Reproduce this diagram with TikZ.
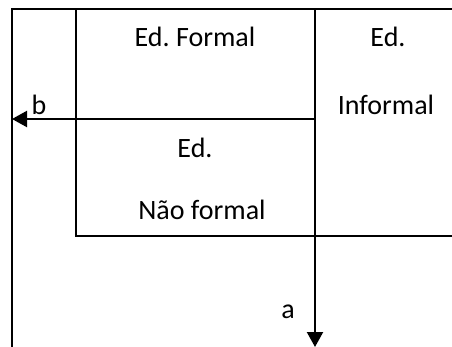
\documentclass[tikz,border=0pt]{standalone}
\usepackage{fontspec}
\setmainfont{Carlito}
\usepackage{tikz}
\usetikzlibrary{arrows.meta,positioning}
\frenchspacing

\begin{document}
\begin{tikzpicture}[x=1pt, y=-1pt,
  cell/.style={font=\fontsize{28}{34}\selectfont, inner sep=0pt, anchor=base},
  frame/.style={line width=2.2pt},
  flow/.style={line width=2.2pt, -{Triangle[length=15pt, width=16pt]}}
]
\useasboundingbox (0,0) rectangle (452,347);

% grid lines
\draw[frame] (452,9) -- (12,9) -- (12,347);
\draw[frame] (76,9) -- (76,236) -- (452,236);

\coordinate (atop) at (315,9);
\coordinate (aend) at (315,347);
\coordinate (bstart) at (315,119);
\coordinate (bend) at (12,119);

\draw[flow] (atop) -- (aend);
\draw[flow] (bstart) -- (bend);

\node[cell] (formal) at (195,47) {Ed. Formal};
\node[cell] (informal1) at (388,47) {Ed.};
\node[cell] (informal2) at (386,115) {Informal};
\node[cell] (naoformal1) at (195,158) {Ed.};
\node[cell] (naoformal2) at (202,220) {Não formal};
\node[cell] (blabel) at (39,115) {b};
\node[cell] (alabel) at (288,318) {a};

\end{tikzpicture}
\end{document}
